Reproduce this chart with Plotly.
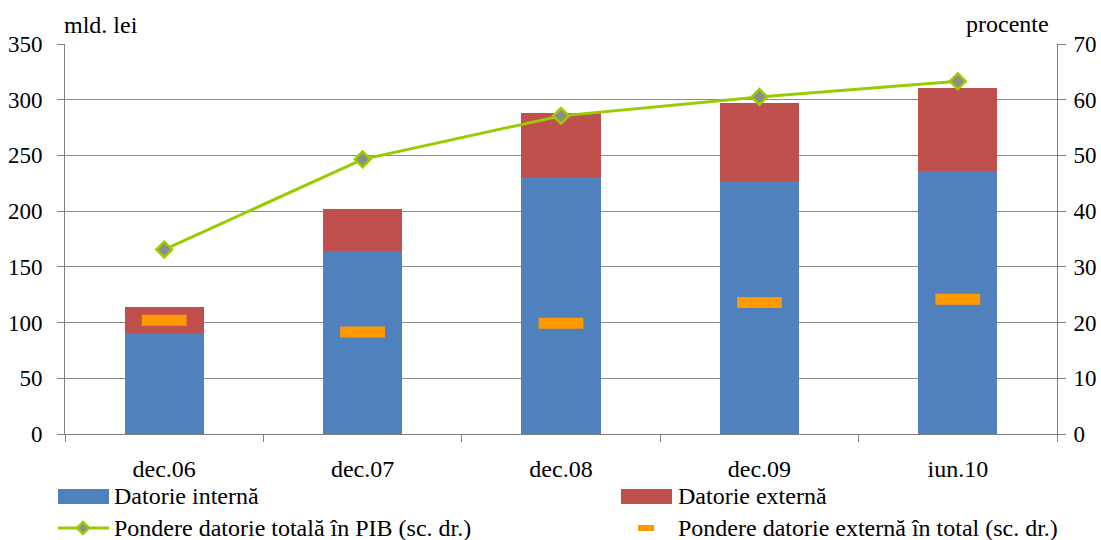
import plotly.graph_objects as go

# Data (mld. lei and percent)
categories = ["dec.06", "dec.07", "dec.08", "dec.09", "iun.10"]
datorie_interna = [90.8, 164.6, 230.2, 226.9, 235.9]
datorie_externa = [23.4, 37.7, 57.6, 69.9, 75.0]
pondere_pib = [33.1, 49.3, 57.1, 60.5, 63.3]
pondere_externa = [20.4, 18.3, 19.9, 23.6, 24.2]

FONT = "Liberation Serif, Times New Roman, serif"
BLUE = "#4F81BD"
RED = "#C0504D"
GREEN = "#99CC00"
ORANGE = "#FF9900"
AXIS = "#808080"

W, H = 1101, 540
L, R, T, B = 65, 1057, 44, 434


def px(x):
    return (x - L) / (R - L)


def py(y):
    return (B - y) / (B - T)


def f(size):
    return dict(family=FONT, size=size, color="black")


fig = go.Figure()
fig.add_trace(go.Bar(x=categories, y=datorie_interna, name="Datorie internă",
                     marker=dict(color=BLUE, line=dict(width=0)), width=0.4))
fig.add_trace(go.Bar(x=categories, y=datorie_externa, name="Datorie externă",
                     marker=dict(color=RED, line=dict(width=0)), width=0.4))
fig.add_trace(go.Scatter(x=categories, y=pondere_pib, yaxis="y2", mode="lines+markers",
                         name="Pondere datorie totală în PIB (sc. dr.)",
                         line=dict(color=GREEN, width=3),
                         marker=dict(symbol="diamond", size=12, color="#8C8C8C",
                                     line=dict(color=GREEN, width=2.5))))
fig.add_trace(go.Scatter(x=categories, y=pondere_externa, yaxis="y2", mode="markers",
                         name="Pondere datorie externă în total (sc. dr.)",
                         marker=dict(symbol="line-ew", size=32,
                                     line=dict(color=ORANGE, width=11))))

fig.update_layout(
    width=W, height=H,
    margin=dict(l=L, r=W - R, t=T, b=H - B, pad=0, autoexpand=False),
    barmode="stack",
    showlegend=False,
    plot_bgcolor="white", paper_bgcolor="white",
    font=f(24),
    xaxis=dict(type="category", range=[-0.5, 4.5], showline=True, linecolor=AXIS,
               linewidth=1, ticks="outside", tickson="boundaries", ticklen=7,
               tickcolor=AXIS, showgrid=False, ticklabelstandoff=13,
               tickfont=f(24), automargin=False),
    yaxis=dict(range=[0, 350], dtick=50, showline=True, linecolor=AXIS, linewidth=1,
               ticks="outside", ticklen=7, tickcolor=AXIS, showgrid=True,
               gridcolor="#8C8C8C", gridwidth=1, zeroline=False,
               ticklabelstandoff=10, tickfont=f(23), automargin=False),
    yaxis2=dict(range=[0, 70], dtick=10, overlaying="y", side="right", showline=True,
                linecolor=AXIS, linewidth=1, ticks="outside", ticklen=8,
                tickcolor=AXIS, showgrid=False, zeroline=False,
                ticklabelstandoff=3, tickfont=f(23), automargin=False),
)

# Axis unit labels
fig.add_annotation(text="mld. lei", xref="paper", yref="paper", x=px(62), y=py(25),
                   xanchor="left", yanchor="middle", showarrow=False, font=f(24))
fig.add_annotation(text="procente", xref="paper", yref="paper", x=px(1051), y=py(24),
                   xanchor="right", yanchor="middle", showarrow=False, font=f(24))

# Legend drawn below the plot in two columns
shapes = []
row1, row2 = 496, 528
shapes.append(dict(type="rect", xref="paper", yref="paper", x0=px(58), x1=px(109),
                   y0=py(504), y1=py(489), fillcolor=BLUE, line=dict(width=0)))
shapes.append(dict(type="rect", xref="paper", yref="paper", x0=px(621), x1=px(672),
                   y0=py(504), y1=py(489), fillcolor=RED, line=dict(width=0)))
shapes.append(dict(type="line", xref="paper", yref="paper", x0=px(58), x1=px(109),
                   y0=py(row2), y1=py(row2), line=dict(color=GREEN, width=3)))
cx, cy, d = 83, row2, 6
diamond = "M {} {} L {} {} L {} {} L {} {} Z".format(
    px(cx), py(cy - d), px(cx + d), py(cy), px(cx), py(cy + d), px(cx - d), py(cy))
shapes.append(dict(type="path", xref="paper", yref="paper", path=diamond,
                   fillcolor="#8C8C8C", line=dict(color=GREEN, width=2.5)))
shapes.append(dict(type="rect", xref="paper", yref="paper", x0=px(638), x1=px(654),
                   y0=py(531), y1=py(525), fillcolor=ORANGE, line=dict(width=0)))
fig.update_layout(shapes=shapes)

for text, x, y in [("Datorie internă", 112, row1), ("Datorie externă", 676, row1),
                   ("Pondere datorie totală în PIB (sc. dr.)", 112, row2),
                   ("Pondere datorie externă în total (sc. dr.)", 676, row2)]:
    fig.add_annotation(text=text, xref="paper", yref="paper", x=px(x), y=py(y),
                       xanchor="left", yanchor="middle", showarrow=False, font=f(24))

fig.write_html("out.html")
